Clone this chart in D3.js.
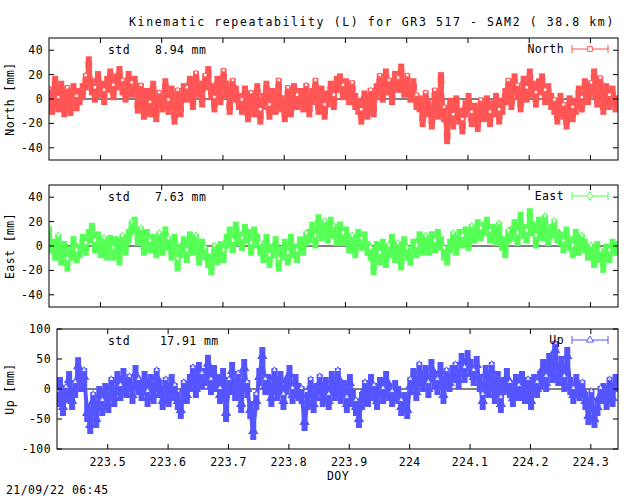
<!DOCTYPE html>
<html><head><meta charset="utf-8">
<script src="https://d3js.org/d3.v7.min.js"></script>
<style>body{margin:0;background:#fff}text{font-family:"DejaVu Sans Mono",monospace;font-size:11.5px;letter-spacing:0.4px;fill:#000}</style>
</head><body><svg id="c" width="640" height="496"></svg>
<script>
const doyStart = 223.416, doyStep = 0.005, doyDomain = [223.416, 224.345];
const xTicks = [223.5, 223.6, 223.7, 223.8, 223.9, 224, 224.1, 224.2, 224.3];
const north = [3,-6,12,-4,8,-8,4,-7,6,-3,2,
6,14,28,10,4,16,8,2,12,18,6,14,20,10,4,16,8,12,
-5,6,-10,2,-8,8,-12,0,-4,10,-6,4,-14,2,-8,6,
4,12,-2,16,8,0,14,20,6,-4,12,2,18,8,-6,10,4,-2,
-6,4,-12,0,-8,6,-14,-2,8,-10,2,-6,10,-4,-12,4,-8,6,-2,2,
-4,6,-8,2,10,-6,4,-10,0,8,-2,12,
14,6,10,2,8,-2,
-6,-14,0,-10,2,-8,
6,14,4,18,10,2,16,12,22,8,14,4,10,-2,
-4,-16,0,-8,-18,2,-10,15,
-12,-30,-6,-18,-4,-14,-22,-8,-2,-16,-10,-20,-6,-12,-4,-16,-8,-2,-14,-6,
2,10,-2,14,6,-4,12,4,18,8,0,10,14,2,6,-2,
-6,-14,-2,-10,-18,-4,-12,-6,
4,-4,10,2,8,18,0,12,-6,6,-2,4,-4];
const east = [10,0,-6,4,-10,-2,-15,-6,2,-8,-4,
4,-2,8,13,0,6,-4,2,-6,3,
-6,2,-10,4,-2,8,15,
18,6,10,-2,8,0,4,-4,
6,-2,10,2,-6,4,-15,-4,2,-8,6,-2,4,-10,0,
-6,-12,-18,-4,-10,-2,-8,
4,10,0,14,6,2,12,8,-2,10,4,
-2,-8,4,-12,-4,2,-15,-6,0,-10,4,-4,-8,2,-2,6,
8,14,4,20,10,16,8,18,12,6,
14,6,10,0,4,-4,8,2,6,-2,
-6,-18,-2,-10,0,-12,-4,4,-8,-2,-14,2,-6,-10,0,-4,6,-2,
4,-2,6,0,8,2,
-6,-10,
0,6,-2,8,4,10,2,
12,8,16,10,14,18,8,12,6,14,
2,-4,8,
10,16,6,22,12,8,25,14,4,18,10,20,6,12,16,8,
6,0,10,2,-4,8,-2,4,0,-6,
-4,-12,-2,-8,-16,-4,-8,0,-2];
const up = [-15,5,-30,-8,15,-20,0,
38,10,20,
-40,-60,-20,-50,-10,-30,
-5,-25,5,-15,
15,-5,20,0,10,-10,25,5,
-5,15,-15,10,-10,20,0,-20,5,-15,10,-5,
-20,-35,0,-10,
10,25,0,30,15,20,42,5,25,10,
-10,20,-40,5,30,-5,15,-25,35,0,
-35,-70,-20,
20,55,5,
10,-15,20,-5,15,-20,5,25,-10,10,-5,
-10,-55,-20,5,-25,-5,
10,-15,5,-20,15,-5,20,-10,0,-25,10,-15,
-30,-50,-20,
0,-15,10,-5,-20,5,-10,15,-5,-15,0,-10,
-30,-20,-35,
5,20,-5,30,10,25,0,35,15,5,30,-10,20,10,25,
30,15,45,25,50,35,20,40,
10,-20,25,0,30,-10,15,-25,5,20,
0,-15,10,-5,15,-10,5,-20,10,0,
15,35,10,45,25,65,20,40,10,55,
5,-10,10,-5,0,
-20,-45,-15,-50,-30,-10,
-5,-20,5,-15,10];
const sigmas = {North: 7, East: 6, Up: 15};
const stds = {North: "8.94", East: "7.63", Up: "17.91"};

const svg = d3.select("#c");
svg.append("text").attr("x",372).attr("y",26).attr("text-anchor","middle").style("letter-spacing","1.6px")
  .text("Kinematic repeatability (L) for GR3 517 - SAM2  ( 38.8 km)");

const panels = [
  {name:"North", data:north, color:"#ff5555", l:49, t:38, b:160, dom:[-50,50], ticks:[-40,-20,0,20,40], marker:"square", label:"North [mm]"},
  {name:"East", data:east, color:"#55ff55", l:49, t:185, b:307, dom:[-50,50], ticks:[-40,-20,0,20,40], marker:"diamond", label:"East [mm]"},
  {name:"Up", data:up, color:"#5555ff", l:57, t:329, b:449, dom:[-100,100], ticks:[-100,-50,0,50,100], marker:"triangle", label:"Up [mm]"}
];
const R = 618;
panels.forEach((p,pi) => {
  const x = d3.scaleLinear().domain(doyDomain).range([p.l, R]);
  const y = d3.scaleLinear().domain(p.dom).range([p.b, p.t]);
  const g = svg.append("g");
  const pts = p.data.map((v,i)=>({x:doyStart+i*doyStep, y:v}));
  const sym = p.marker==="square"?d3.symbolSquare:p.marker==="diamond"?d3.symbolDiamond:d3.symbolTriangle;
  const clip = "clip"+pi;
  svg.append("clipPath").attr("id",clip).append("rect").attr("x",p.l).attr("y",p.t).attr("width",R-p.l).attr("height",p.b-p.t);
  g.append("line").attr("x1",p.l).attr("x2",R).attr("y1",y(0)).attr("y2",y(0)).attr("stroke","#000");
  const d = g.append("g").attr("clip-path",`url(#${clip})`);
  const s = sigmas[p.name];
  d.append("path").datum(pts).attr("d",d3.line().x(q=>x(q.x)).y(q=>y(q.y)))
    .attr("fill","none").attr("stroke",p.color).attr("stroke-width",4);
  d.selectAll("line.e").data(pts).enter().append("line")
    .attr("x1",q=>x(q.x)).attr("x2",q=>x(q.x)).attr("y1",q=>y(q.y-s)).attr("y2",q=>y(q.y+s))
    .attr("stroke",p.color).attr("stroke-width",6);
  d.selectAll("path.m").data(pts).enter().append("path")
    .attr("transform",q=>`translate(${x(q.x)},${y(q.y)})`)
    .attr("d",d3.symbol().type(sym).size(30)).attr("fill",p.color).attr("stroke",p.color).attr("stroke-width",1.2);
  d.selectAll("path.m2").data(pts.filter((q,i)=>i%3===0)).enter().append("path")
    .attr("transform",q=>`translate(${x(q.x)},${y(q.y+s*0.8)})`)
    .attr("d",d3.symbol().type(sym).size(12)).attr("fill","#fff").attr("stroke",p.color).attr("stroke-width",1);
  g.append("rect").attr("x",p.l).attr("y",p.t).attr("width",R-p.l).attr("height",p.b-p.t)
    .attr("fill","none").attr("stroke","#000");
  p.ticks.forEach(t=>{
    g.append("line").attr("x1",p.l).attr("x2",p.l+5).attr("y1",y(t)).attr("y2",y(t)).attr("stroke","#000");
    g.append("line").attr("x1",R).attr("x2",R-5).attr("y1",y(t)).attr("y2",y(t)).attr("stroke","#000");
    g.append("text").attr("x",p.l-6).attr("y",y(t)+4).attr("text-anchor","end").text(t);
  });
  xTicks.forEach(t=>{
    g.append("line").attr("x1",x(t)).attr("x2",x(t)).attr("y1",p.b).attr("y2",p.b-5).attr("stroke","#000");
    g.append("line").attr("x1",x(t)).attr("x2",x(t)).attr("y1",p.t).attr("y2",p.t+5).attr("stroke","#000");
    if (pi===2) g.append("text").attr("x",x(t)).attr("y",p.b+17).attr("text-anchor","middle").text(t);
  });
  g.append("text").attr("transform",`translate(14,${(p.t+p.b)/2}) rotate(-90)`).attr("text-anchor","middle").text(p.label);
  g.append("text").attr("x",108).attr("y",p.t+16).text("std");
  g.append("text").attr("x",p.name==="Up"?160:155).attr("y",p.t+16).text(stds[p.name]+" mm");
  g.append("text").attr("x",564).attr("y",p.t+15).attr("text-anchor","end").text(p.name);
  const ly = p.t+11;
  g.append("line").attr("x1",572).attr("x2",608).attr("y1",ly).attr("y2",ly).attr("stroke",p.color);
  [572,608].forEach(xx=>g.append("line").attr("x1",xx).attr("x2",xx).attr("y1",ly-4).attr("y2",ly+4).attr("stroke",p.color));
  g.append("path").attr("transform",`translate(590,${ly})`).attr("d",d3.symbol().type(sym).size(22))
    .attr("fill","#fff").attr("stroke",p.color);
});
svg.append("text").attr("x",338).attr("y",480).attr("text-anchor","middle").text("DOY");
svg.append("text").attr("x",6).attr("y",494).text("21/09/22 06:45");
</script></body></html>
